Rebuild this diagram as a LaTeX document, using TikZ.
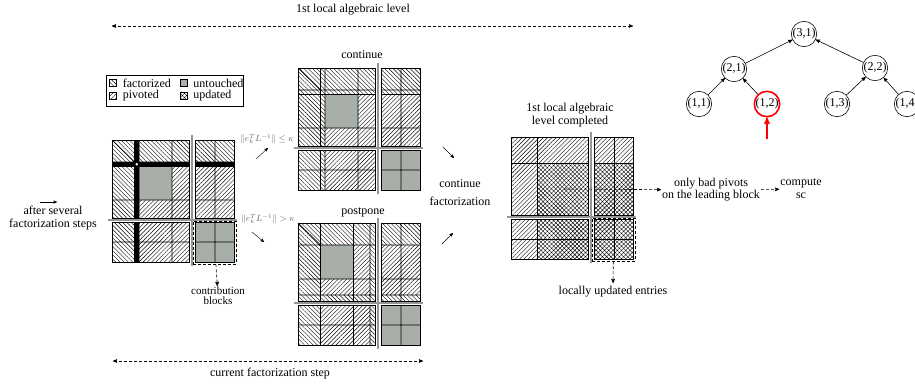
\documentclass[tikz,border=0pt]{standalone}
\usepackage{amsmath,amssymb}
\usepackage{fontspec}
\setmainfont{Liberation Serif}
\usepackage{xcolor}
\usepackage{tikz}
\usetikzlibrary{arrows,positioning,patterns.meta}
\definecolor{untgray}{RGB}{168,175,168}
\definecolor{sepgray}{RGB}{150,150,150}
% block outlines and separators of one frontal matrix
\newcommand{\matframe}{%
  \draw[sep] (80,-5) -- (80,126) (-4,80) -- (125,80);
  \draw[blk] (0,0) rectangle (77,78) (83,0) rectangle (122,78)
    (0,82) rectangle (77,122) (83,82) rectangle (122,122);}
% grid of a matrix during the step
\newcommand{\stepgrid}{%
  \draw[grd] (22.5,0) -- (22.5,78) (27,0) -- (27,78) (60,0) -- (60,78)
    (0,22) -- (77,22) (0,26.5) -- (77,26.5) (0,60) -- (77,60)
    (103,0) -- (103,78) (83,22) -- (122,22) (83,26.5) -- (122,26.5) (83,60) -- (122,60)
    (22.5,82) -- (22.5,122) (27,82) -- (27,122) (60,82) -- (60,122) (0,102) -- (77,102)
    (103,82) -- (103,122) (83,102) -- (122,102)
    (0,0) -- (22.5,22);}

\begin{document}
\begin{tikzpicture}[x=1pt,y=-1pt,>=stealth',
  font=\fontsize{12}{13}\selectfont,
  fac/.style={pattern={Lines[angle=-45,distance=3pt,line width=0.4pt]}},
  piv/.style={pattern={Lines[angle=45,distance=3pt,line width=0.4pt]}},
  upd/.style={pattern={Hatch[angle=45,distance=3pt,line width=0.4pt]}},
  unt/.style={fill=untgray},
  bar/.style={fill=black},
  blk/.style={draw=black,line width=0.9pt},
  grd/.style={draw=black,line width=0.7pt},
  sep/.style={draw=sepgray,line width=1.3pt},
  dsh/.style={dash pattern=on 3pt off 2pt,line width=0.6pt},
  lbl/.style={align=center,inner sep=1pt},
  cond/.style={font=\fontsize{9}{10}\selectfont,text=black!60,inner sep=1pt},
  swatch/.style={draw,line width=0.5pt,minimum width=7pt,minimum height=7pt,inner sep=0pt},
  tnode/.style={circle,draw,line width=0.6pt,minimum size=24pt,inner sep=0pt}]

    \useasboundingbox (0,0) rectangle (915,384);

    % The levels
    \node (toplbl) at (353,10) {1st local algebraic level};
    \coordinate (topL) at (112,26);
    \coordinate (topR) at (633,26);
    \draw[<->,dsh] (topL) -- (topR);
    \node (botlbl) at (270,374) {current factorization step};
    \coordinate (botL) at (113,361);
    \coordinate (botR) at (423,361);
    \draw[<->,dsh] (botL) -- (botR);

    % The legend
    \node[draw,line width=0.6pt,minimum width=137pt,minimum height=31pt] (legend) at (174.5,90.5) {};
    \node[swatch,fac] (lgfac) at (113,83) {};
    \node[right=5pt of lgfac,inner sep=1pt] {factorized};
    \node[swatch,piv] (lgpiv) at (113,96) {};
    \node[right=5pt of lgpiv,inner sep=1pt] {pivoted};
    \node[swatch,unt] (lgunt) at (183.5,83) {};
    \node[right=5pt of lgunt,inner sep=1pt] {untouched};
    \node[swatch,upd] (lgupd) at (183.5,96) {};
    \node[right=5pt of lgupd,inner sep=1pt] {updated};

    % The matrix after several steps
    \begin{scope}[shift={(112,140)}]
      \path[fac] (0,0) rectangle (22.5,78) (27,0) rectangle (77,22)
        (83,0) rectangle (122,22) (0,82) rectangle (22.5,122);
      \path[unt] (27,26.5) rectangle (60,60) (83,82) rectangle (122,122);
      \path[piv] (60,26.5) rectangle (77,78) (27,60) rectangle (60,78)
        (83,26.5) rectangle (122,78) (27,82) rectangle (77,122);
      \path[bar] (22.5,0) rectangle (27,78) (22.5,82) rectangle (27,122)
        (0,22) rectangle (77,26.5) (83,22) rectangle (122,26.5);
      \stepgrid
      \matframe
      \fill[white] (24.75,24.25) circle (1.3);
      \node[draw,dsh,minimum width=43pt,minimum height=43pt] (cbox) at (102.5,102.5) {};
    \end{scope}
    \node[lbl,font=\fontsize{11}{10}\selectfont] (contrib) at (218,296) {contribution\\blocks};
    \draw[->,dsh] (cbox) -- (contrib);

    \node[lbl] (after) at (53,218) {after several\\factorization steps};
    \coordinate (aftA) at (40,202);
    \coordinate (aftB) at (57,202);
    \draw[->] (aftA) -- (aftB);

    % The two cases
    \node[cond] (okc) at (267,139) {$\|e_k^TL^{-1}\|\le\kappa$};
    \node[cond] (badc) at (268,219) {$\|e_k^TL^{-1}\|>\kappa$};
    \coordinate (okA) at (256,159);
    \coordinate (okB) at (268,148);
    \coordinate (badA) at (252,232);
    \coordinate (badB) at (264,242);
    \draw[->] (okA) -- (okB);
    \draw[->] (badA) -- (badB);

    % The matrix, continue
    \node (contlbl) at (362,55) {continue};
    \begin{scope}[shift={(298,68)}]
      \path[fac] (0,0) rectangle (27,78) (27,0) rectangle (77,26.5)
        (83,0) rectangle (122,26.5) (0,82) rectangle (27,122);
      \path[unt] (27,26.5) rectangle (60,60) (83,82) rectangle (122,122);
      \path[piv] (60,26.5) rectangle (77,78) (27,60) rectangle (60,78)
        (83,26.5) rectangle (122,78) (27,82) rectangle (77,122);
      \stepgrid
      \matframe
    \end{scope}

    % The matrix, postpone
    \node (postlbl) at (363,212) {postpone};
    \begin{scope}[shift={(298,223)}]
      \path[fac] (0,0) rectangle (22.5,78) (22.5,0) rectangle (72,22)
        (72,0) rectangle (77,78) (0,72) rectangle (77,78)
        (83,0) rectangle (122,22) (83,72) rectangle (122,78)
        (0,82) rectangle (22.5,122) (72,82) rectangle (77,122);
      \path[unt] (22.5,22) rectangle (55.5,56) (83,82) rectangle (122,122);
      \path[piv] (55.5,22) rectangle (72,72) (22.5,56) rectangle (55.5,72)
        (83,22) rectangle (122,72) (22.5,82) rectangle (72,122);
      \draw[grd] (22.5,0) -- (22.5,78) (55.5,0) -- (55.5,78) (72,0) -- (72,78)
        (0,22) -- (77,22) (0,56) -- (77,56) (0,72) -- (77,72)
        (103,0) -- (103,78) (83,22) -- (122,22) (83,56) -- (122,56) (83,72) -- (122,72)
        (22.5,82) -- (22.5,122) (55.5,82) -- (55.5,122) (72,82) -- (72,122) (0,102) -- (77,102)
        (103,82) -- (103,122) (83,102) -- (122,102)
        (0,0) -- (22.5,22);
      \matframe
    \end{scope}

    \node[lbl] (cf) at (460,193) {continue\\[5pt]factorization};
    \coordinate (cfA) at (443,147);
    \coordinate (cfB) at (454,158);
    \coordinate (cfC) at (442,244);
    \coordinate (cfD) at (453,233);
    \draw[->] (cfA) -- (cfB);
    \draw[->] (cfC) -- (cfD);

    % The matrix, level completed
    \node[lbl] (donelbl) at (570,115) {1st local algebraic\\level completed};
    \begin{scope}[shift={(511,137)}]
      \path[piv] (0,0) rectangle (77,26) (0,26) rectangle (26.5,78)
        (83,0) rectangle (122,26) (0,82) rectangle (26.5,122);
      \path[upd] (26.5,26) rectangle (77,78) (83,26) rectangle (122,78)
        (26.5,82) rectangle (77,122) (83,82) rectangle (122,122);
      \draw[grd] (26.5,0) -- (26.5,78) (0,26) -- (77,26)
        (103,0) -- (103,78) (83,26) -- (122,26)
        (26.5,82) -- (26.5,122) (0,102) -- (77,102)
        (103,82) -- (103,122) (83,102) -- (122,102);
      \matframe
      \node[draw,dsh,minimum width=43pt,minimum height=43pt] (ubox) at (102.5,102.5) {};
      \coordinate (badS) at (53,52);
    \end{scope}
    \node (locup) at (613,292) {locally updated entries};
    \draw[->,dsh] (ubox) -- (locup);

    \node[lbl] (badp) at (711,190) {only bad pivots\\[-1pt]on the leading block};
    \node[lbl] (sc) at (801,189) {compute\\sc};
    \draw[->,dsh] (badS) -- (badp);
    \draw[->,dsh] (badp) -- (sc);

    % The tree
    \node[tnode] (n31) at (804,34) {(3,1)};
    \node[tnode] (n21) at (734,69) {(2,1)};
    \node[tnode] (n22) at (875,68) {(2,2)};
    \node[tnode] (n11) at (699,104) {(1,1)};
    \node[tnode,draw=red,line width=1.6pt] (n12) at (767,104) {(1,2)};
    \node[tnode] (n13) at (837,104) {(1,3)};
    \node[tnode] (n14) at (907,104) {(1,4)};
    \coordinate (redtail) at (767,139);

    % Tree edges
    \path[->,line width=0.6pt]
    (n11) edge (n21)
    (n12) edge (n21)
    (n21) edge (n31)
    (n22) edge (n31)
    (n13) edge (n22)
    (n14) edge (n22)
    ;
    \draw[->,red,line width=1.3pt] (redtail) -- (n12);

\end{tikzpicture}
\end{document}
